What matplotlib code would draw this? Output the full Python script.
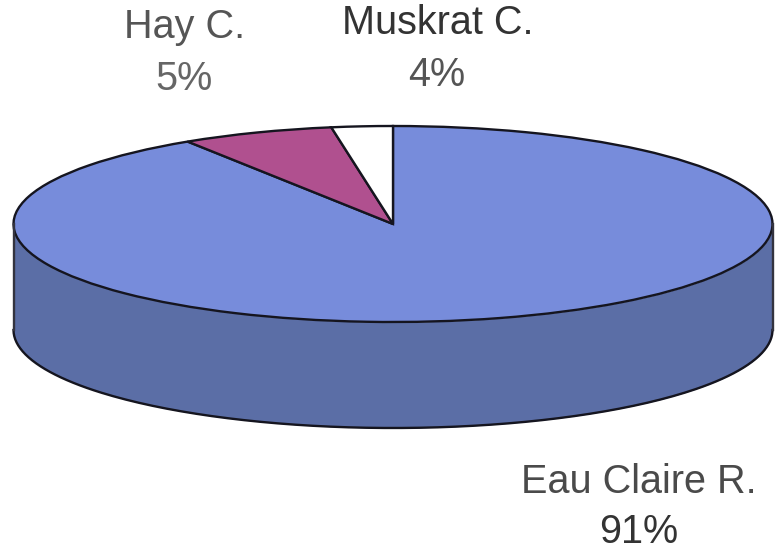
import numpy as np
import matplotlib
matplotlib.use('Agg')
import matplotlib.pyplot as plt

plt.rcParams['font.family'] = ['Liberation Sans', 'DejaVu Sans']

categories = ['Eau Claire R.', 'Hay C.', 'Muskrat C.']
drawn_shares = [90.9, 6.5, 2.6]
pct_labels = ['91%', '5%', '4%']
colors = ['#778cdb', '#b0508f', '#ffffff']
side_color = '#5b6ea6'

fig = plt.figure(figsize=(7.76, 5.47), dpi=100, facecolor='white')
ax = fig.add_axes([0, 0, 1, 1])

# top face, stretched into an ellipse afterwards
ax.pie(drawn_shares, colors=colors, startangle=90, counterclock=False,
       radius=1, wedgeprops={'edgecolor': '#15151f', 'linewidth': 1.7})
ax.set_aspect('auto')

cx, cy = 393, 224
rx, ry = 379.5, 98
depth = 106
ax.set_xlim(-cx / rx, (776 - cx) / rx)
ax.set_ylim(-(547 - cy) / ry, cy / ry)

# wall of the disc, front half only
t = np.linspace(np.pi, 2 * np.pi, 200)
d = depth / ry
ax.fill_between(np.cos(t), np.sin(t), np.sin(t) - d, color=side_color, lw=0, zorder=0.5)
ax.plot(np.cos(t), np.sin(t) - d, color='#15151f', lw=1.7, zorder=3)
ax.plot([-1, -1], [0, -d], color='#33333f', lw=1.7, zorder=3)
ax.plot([1, 1], [0, -d], color='#33333f', lw=1.7, zorder=3)


def put(text, px, baseline, color):
    fig.text(px / 776, 1 - baseline / 547, text, ha='center', va='baseline',
             fontsize=28.5, color=color)


put(categories[1], 185, 38, '#555555')
put(pct_labels[1], 184, 90, '#666666')
put(categories[2], 437.5, 34, '#333333')
put(pct_labels[2], 437, 86, '#555555')
put(categories[0], 639, 493, '#4a4a4a')
put(pct_labels[0], 639, 543, '#333333')

fig.savefig('out.png', dpi=100)
